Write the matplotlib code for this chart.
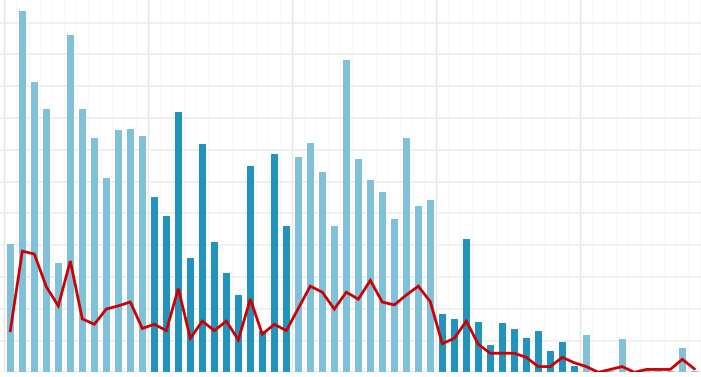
import matplotlib
matplotlib.use("Agg")
import matplotlib.pyplot as plt
import numpy as np

bar_values = [40.3, 113.6, 91.3, 82.7, 34.4, 106.1, 82.7, 73.6, 61.1, 76.2, 76.5, 74.3,
              55.1, 49.1, 81.9, 35.8, 71.7, 41.1, 31.3, 24.2, 64.9, 13.0, 68.6, 46.0,
              67.6, 72.0, 63.0, 46.0, 98.1, 67.1, 60.4, 56.6, 48.3, 73.6, 52.4, 54.3,
              18.4, 16.7, 41.8, 15.8, 8.7, 15.5, 13.6, 10.9, 12.9, 6.8, 9.4, 1.9,
              11.7, 0.2, 0.3, 10.5, 0.3, 0.5, 0.5, 0.5, 7.5, 0.5]
line_values = [13.1, 38.1, 37.2, 26.9, 20.9, 35.0, 16.8, 15.1, 19.9, 20.9, 22.1, 13.8,
               15.1, 13.1, 26.3, 10.7, 16.1, 13.1, 16.1, 10.2, 23.0, 12.0, 15.1, 13.1,
               20.1, 27.1, 25.2, 19.9, 25.2, 23.0, 28.9, 22.1, 21.2, 24.3, 27.1, 22.2,
               9.0, 10.7, 16.1, 8.8, 6.0, 6.0, 6.0, 4.7, 1.8, 1.8, 4.7, 3.0,
               1.8, 0.0, 0.9, 1.8, 0.0, 0.9, 0.9, 0.9, 4.1, 1.1]

light = "#80c1da"
dark = "#2193bd"
colors = [(light if (i // 12) % 2 == 0 else dark) for i in range(len(bar_values))]

fig = plt.figure(figsize=(7.01, 3.77), dpi=100)
ax = fig.add_axes([0, 4.7 / 377, 1, 372.3 / 377])
x = np.arange(len(bar_values))

ax.set_xlim(-0.86, 57.56)
ax.set_ylim(0, 117.1)

# grid
for gx in np.arange(-0.5, 58, 1):
    ax.axvline(gx, color="#f8f8f8", lw=0.8, zorder=0)
for gx in np.arange(-0.5, 58, 12):
    ax.axvline(gx, color="#e6e6e6", lw=1.0, zorder=0)
for gy in np.arange(0, 118, 10):
    ax.axhline(gy, color="#efefef", lw=1.3, zorder=0)

ax.bar(x, bar_values, width=0.6, color=colors, zorder=2)
ax.plot(x, line_values, color="#cc0000", lw=2.0, zorder=3, solid_joinstyle="miter")

for s in ax.spines.values():
    s.set_visible(False)
ax.set_xticks([])
ax.set_yticks([])

fig.savefig("out.png", dpi=100)
